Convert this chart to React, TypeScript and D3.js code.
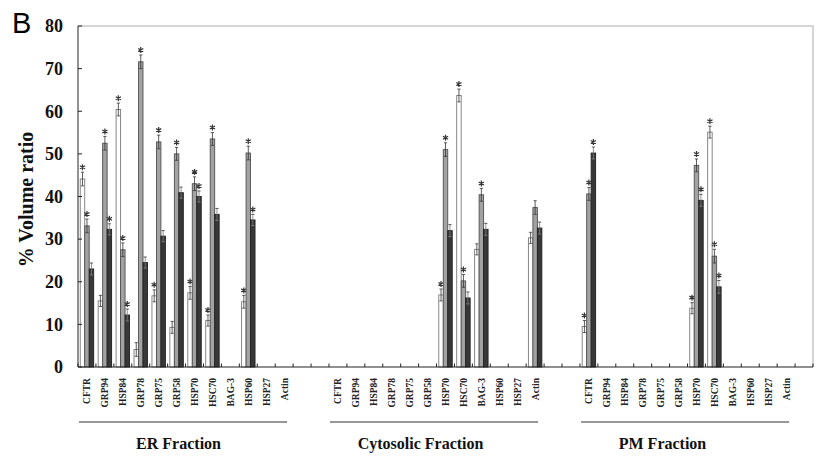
import React from 'react';
import * as d3 from 'd3';

// protein categories shown in every fraction
const categories = ['CFTR', 'GRP94', 'HSP84', 'GRP78', 'GRP75', 'GRP58', 'HSP70', 'HSC70', 'BAG-3', 'HSP60', 'HSP27', 'Actin'];
const fractions = ['ER Fraction', 'Cytosolic Fraction', 'PM Fraction'];
const series = ['white', 'grey', 'dark'];
const yTicks = [0, 10, 20, 30, 40, 50, 60, 70, 80];

// % volume ratio, null = no bar
const erWhite = [44.1, 15.5, 60.4, 4.1, 16.7, 9.3, 17.4, 10.9, null, 15.3, null, null];
const erGrey = [33.1, 52.5, 27.5, 71.6, 52.8, 50.0, 43.0, 53.5, null, 50.2, null, null];
const erDark = [23.0, 32.3, 12.2, 24.5, 30.7, 40.9, 40.0, 35.8, null, 34.5, null, null];

const cytoWhite = [null, null, null, null, null, null, 16.9, 63.7, 27.6, null, null, 30.3];
const cytoGrey = [null, null, null, null, null, null, 51.0, 20.2, 40.4, null, null, 37.4];
const cytoDark = [null, null, null, null, null, null, 32.0, 16.2, 32.3, null, null, 32.6];

const pmWhite = [9.5, null, null, null, null, null, 13.8, 55.1, null, null, null, null];
const pmGrey = [40.6, null, null, null, null, null, 47.3, 26.0, null, null, null, null];
const pmDark = [50.2, null, null, null, null, null, 39.1, 18.8, null, null, null, null];

// error (SD) per bar
const erWhiteErr = [1.6, 1.3, 1.5, 1.6, 1.4, 1.4, 1.5, 1.3, null, 1.5, null, null];
const erGreyErr = [1.6, 1.6, 1.6, 1.6, 1.6, 1.5, 1.6, 1.5, null, 1.6, null, null];
const erDarkErr = [1.4, 1.3, 1.4, 1.3, 1.3, 1.3, 1.3, 1.4, null, 1.3, null, null];
const cytoWhiteErr = [null, null, null, null, null, null, 1.4, 1.5, 1.3, null, null, 1.3];
const cytoGreyErr = [null, null, null, null, null, null, 1.6, 1.5, 1.5, null, null, 1.6];
const cytoDarkErr = [null, null, null, null, null, null, 1.4, 1.4, 1.4, null, null, 1.4];
const pmWhiteErr = [1.4, null, null, null, null, null, 1.3, 1.4, null, null, null, null];
const pmGreyErr = [1.5, null, null, null, null, null, 1.5, 1.6, null, null, null, null];
const pmDarkErr = [1.4, null, null, null, null, null, 1.4, 1.5, null, null, null, null];

// significance stars (1 = marked)
const erWhiteStar = [1, 0, 1, 0, 1, 0, 1, 1, 0, 1, 0, 0];
const erGreyStar = [1, 1, 1, 1, 1, 1, 1, 1, 0, 1, 0, 0];
const erDarkStar = [0, 1, 1, 0, 0, 0, 1, 0, 0, 1, 0, 0];
const cytoWhiteStar = [0, 0, 0, 0, 0, 0, 1, 1, 0, 0, 0, 0];
const cytoGreyStar = [0, 0, 0, 0, 0, 0, 1, 1, 1, 0, 0, 0];
const cytoDarkStar = [0, 0, 0, 0, 0, 0, 0, 0, 0, 0, 0, 0];
const pmWhiteStar = [1, 0, 0, 0, 0, 0, 1, 1, 0, 0, 0, 0];
const pmGreyStar = [1, 0, 0, 0, 0, 0, 1, 1, 0, 0, 0, 0];
const pmDarkStar = [1, 0, 0, 0, 0, 0, 1, 1, 0, 0, 0, 0];

const values = [[erWhite, erGrey, erDark], [cytoWhite, cytoGrey, cytoDark], [pmWhite, pmGrey, pmDark]];
const errors = [[erWhiteErr, erGreyErr, erDarkErr], [cytoWhiteErr, cytoGreyErr, cytoDarkErr], [pmWhiteErr, pmGreyErr, pmDarkErr]];
const stars = [[erWhiteStar, erGreyStar, erDarkStar], [cytoWhiteStar, cytoGreyStar, cytoDarkStar], [pmWhiteStar, pmGreyStar, pmDarkStar]];

const fills = { white: '#ffffff', grey: '#a2a2a2', dark: '#383838' };
const strokes = { white: '#7a7a7a', grey: '#505050', dark: '#202020' };

const W = 830, H = 460;
const left = 78, right = 813, top = 26, bottom = 367;
const gap = 2; // empty slots between fractions
const serif = '"Liberation Serif", "Times New Roman", serif';

// six-armed asterisk centred on (cx, cy)
const asterisk = (cx, cy, r) => {
    const p = d3.path();
    [90, 30, 150].forEach(a => {
        const dx = r * Math.cos(a * Math.PI / 180), dy = r * Math.sin(a * Math.PI / 180);
        p.moveTo(cx - dx, cy - dy);
        p.lineTo(cx + dx, cy + dy);
    });
    return p.toString();
};

const App = () => {
    const slots = d3.range(fractions.length * (categories.length + gap) - gap + 1);
    const x0 = d3.scaleBand<number>().domain(slots).range([left, right]);
    const x1 = d3.scaleBand<string>().domain(series).range([0, x0.bandwidth()]).paddingOuter(0.5);
    const y = d3.scaleLinear().domain([0, 80]).range([bottom, top]);
    const slotOf = (f, c) => f * (categories.length + gap) + c;

    const bars = [];
    fractions.forEach((_, f) => {
        categories.forEach((cat, c) => {
            series.forEach((s, si) => {
                const v = values[f][si][c];
                if (v == null) return;
                bars.push({
                    key: `${f}-${c}-${s}`,
                    s,
                    x: x0(slotOf(f, c)) + x1(s),
                    v,
                    e: errors[f][si][c],
                    star: stars[f][si][c]
                });
            });
        });
    });

    const bw = x1.bandwidth();
    const ticksX = slots.concat([slots.length]).map(i => left + i * x0.step());

    return (
        <svg width={W} height={H} style={{ position: 'absolute', left: 0, top: 0, background: '#fff' }}>
            <text x={12} y={33} fontFamily='"Liberation Sans", Arial, sans-serif' fontSize={29}>B</text>

            {/* frame */}
            <path d={`M${left},${top}H${right}V${bottom}`} fill="none" stroke="#c8c8c8" strokeWidth={1.5} />

            {bars.map(b => {
                const cx = b.x + bw / 2;
                return (
                    <g key={b.key}>
                        <rect x={b.x} y={y(b.v)} width={bw} height={bottom - y(b.v)}
                            fill={fills[b.s]} stroke={strokes[b.s]} strokeWidth={0.9} />
                        <line x1={cx} x2={cx} y1={y(b.v + b.e)} y2={y(b.v - b.e)}
                            stroke={b.s === 'dark' ? '#777' : '#333'} strokeWidth={0.8} />
                        <line x1={cx - 1.6} x2={cx + 1.6} y1={y(b.v + b.e)} y2={y(b.v + b.e)}
                            stroke="#333" strokeWidth={0.8} />
                        <line x1={cx - 1.6} x2={cx + 1.6} y1={y(b.v - b.e)} y2={y(b.v - b.e)}
                            stroke={b.s === 'dark' ? '#888' : '#333'} strokeWidth={0.8} />
                        {b.star ? (
                            <path d={asterisk(cx, y(b.v + b.e) - 5, 3)} stroke="#333" strokeWidth={1.2} fill="none" />
                        ) : null}
                    </g>
                );
            })}

            {/* axes */}
            <line x1={left} x2={left} y1={top} y2={bottom} stroke="#222" strokeWidth={1} />
            <line x1={left} x2={right} y1={bottom} y2={bottom} stroke="#222" strokeWidth={1} />
            {yTicks.map(t => (
                <g key={t}>
                    <line x1={left} x2={left + 4} y1={y(t)} y2={y(t)} stroke="#222" />
                    <text x={63} y={y(t)} dy="0.35em" textAnchor="end" fontFamily={serif}
                        fontWeight="bold" fontSize={18} fill="#111">{t}</text>
                </g>
            ))}
            {ticksX.map((tx, i) => (
                <line key={i} x1={tx} x2={tx} y1={bottom} y2={bottom - 3.5} stroke="#222" />
            ))}

            <text transform={`translate(33,${(top + bottom) / 2 + 3}) rotate(-90)`} textAnchor="middle"
                fontFamily={serif} fontWeight="bold" fontSize={20} fill="#111">% Volume ratio</text>

            {fractions.map((fr, f) => {
                const x0s = x0(slotOf(f, 0));
                const x0e = x0(slotOf(f, categories.length - 1)) + x0.bandwidth();
                // titles sit a little left of their group, more so further right
                const shift = -7 - 9 * f;
                return (
                    <g key={fr}>
                        {categories.map((cat, c) => (
                            <text key={cat}
                                transform={`translate(${x0(slotOf(f, c)) + x0.bandwidth() / 2 + 3.5},378) rotate(-90)`}
                                textAnchor="end" fontFamily={serif} fontWeight="bold" fontSize={9.5}
                                fill="#222">{cat}</text>
                        ))}
                        <line x1={x0s + 1} x2={x0e - 6} y1={422} y2={422} stroke="#333" strokeWidth={1.2} />
                        <text x={(x0s + x0e) / 2 + shift} y={449} textAnchor="middle" fontFamily={serif}
                            fontWeight="bold" fontSize={16} fill="#111">{fr}</text>
                    </g>
                );
            })}
        </svg>
    );
};

export default App;
